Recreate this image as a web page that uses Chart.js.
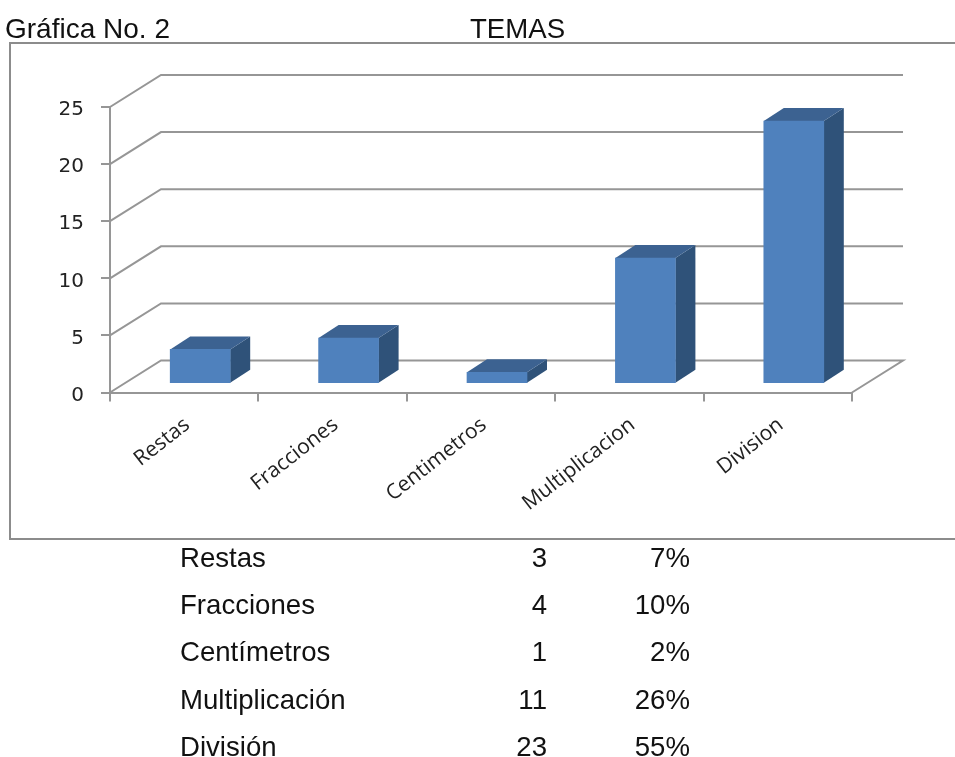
<!DOCTYPE html>
<html>
<head>
<meta charset="utf-8">
<script src="https://cdn.jsdelivr.net/npm/chart.js@4/dist/chart.umd.min.js"></script>
<style>
html, body { margin: 0; padding: 0; background: #fff; overflow: hidden; }
body { width: 955px; height: 757px; position: relative; font-family: "Liberation Sans", Arial, sans-serif; color: #111; }
#frame { position: absolute; left: 9px; top: 42px; width: 960px; height: 494px; border: 2px solid #8c8c8c; box-sizing: content-box; }
canvas { position: absolute; left: 0; top: 0; }
.txt { position: absolute; font-size: 27.6px; line-height: 30px; white-space: nowrap; }
</style>
</head>
<body>
<div id="frame"></div>
<canvas id="chart" width="955" height="757"></canvas>
<div class="txt" style="left:5px;top:14px;font-size:28px">Gráfica No. 2</div>
<div class="txt" style="left:470px;top:14px">TEMAS</div>
<div id="table"></div>
<script>
const categories = ['Restas', 'Fracciones', 'Centimetros', 'Multiplicacion', 'Division'];
const values = [3, 4, 1, 11, 23];
const yTicks = [0, 5, 10, 15, 20, 25];

const tableNames = ['Restas', 'Fracciones', 'Centímetros', 'Multiplicación', 'División'];
const tablePercents = ['7%', '10%', '2%', '26%', '55%'];
const tableTops = [543, 590, 637, 685, 732];

const COLORS = { front: '#4f81bd', top: '#3c6291', side: '#2f5279', line: '#969696', text: '#222222' };

// depth of the fake 3d box, and how far bars sit inside it
const WALL = { dx: 51, dy: 32 };
const BAR = { dx: 20, dy: 13, shiftX: 16, shiftY: 8.8 };

const box3d = {
    id: 'box3d',
    beforeDatasetsDraw(chart) {
        const { ctx, scales: { x, y } } = chart;
        ctx.save();
        ctx.strokeStyle = COLORS.line;
        ctx.lineWidth = 2;
        yTicks.forEach(v => {
            const py = y.getPixelForValue(v);
            ctx.beginPath();
            ctx.moveTo(x.left, py);
            ctx.lineTo(x.left + WALL.dx, py - WALL.dy);
            ctx.lineTo(x.right + WALL.dx, py - WALL.dy);
            if (v === 0) ctx.lineTo(x.right, py);
            ctx.stroke();
        });
        ctx.restore();

        // bars are moved back onto the floor, the side and top faces go first
        ctx.save();
        ctx.translate(BAR.shiftX, -BAR.shiftY);
        chart.getDatasetMeta(0).data.forEach(bar => {
            const p = bar.getProps(['x', 'y', 'base', 'width'], true);
            const l = p.x - p.width / 2, r = p.x + p.width / 2;
            ctx.fillStyle = COLORS.side;
            ctx.beginPath();
            ctx.moveTo(r, p.y);
            ctx.lineTo(r + BAR.dx, p.y - BAR.dy);
            ctx.lineTo(r + BAR.dx, p.base - BAR.dy);
            ctx.lineTo(r, p.base);
            ctx.closePath();
            ctx.fill();
            ctx.fillStyle = COLORS.top;
            ctx.beginPath();
            ctx.moveTo(l, p.y);
            ctx.lineTo(l + BAR.dx, p.y - BAR.dy);
            ctx.lineTo(r + BAR.dx, p.y - BAR.dy);
            ctx.lineTo(r, p.y);
            ctx.closePath();
            ctx.fill();
        });
        // left open for the bars themselves, closed in afterDatasetsDraw
    },
    afterDatasetsDraw(chart) {
        chart.ctx.restore();
    }
};

new Chart(document.getElementById('chart'), {
    type: 'bar',
    data: {
        labels: categories,
        datasets: [{ data: values, backgroundColor: COLORS.front, barThickness: 60 }]
    },
    options: {
        responsive: false,
        animation: false,
        layout: { padding: { left: 0, top: 107, right: 103, bottom: 0 } },
        plugins: { legend: { display: false }, tooltip: { enabled: false } },
        scales: {
            x: {
                afterFit: s => { s.height = 757 - 392.5; },
                border: { color: COLORS.line, width: 2 },
                grid: { drawOnChartArea: false, color: COLORS.line, lineWidth: 2, tickLength: 9 },
                ticks: {
                    color: COLORS.text,
                    font: { family: '"Open Sans"', size: 21 },
                    minRotation: 38,
                    maxRotation: 38,
                    labelOffset: 3,
                    padding: 11
                }
            },
            y: {
                min: 0,
                max: 25,
                afterFit: s => { s.width = 110; },
                afterBuildTicks: s => { s.ticks = yTicks.map(value => ({ value })); },
                border: { color: COLORS.line, width: 2 },
                grid: { drawOnChartArea: false, color: COLORS.line, lineWidth: 2, tickLength: 9 },
                ticks: {
                    color: COLORS.text,
                    font: { family: '"DejaVu Sans"', size: 20 },
                    labelOffset: 3,
                    padding: 17
                }
            }
        }
    },
    plugins: [box3d]
});

const table = document.getElementById('table');
tableNames.forEach((name, i) => {
    const cells = [
        ['left:180px', name],
        ['right:408px', String(values[i])],
        ['right:265px', tablePercents[i]]
    ];
    cells.forEach(([pos, text]) => {
        const el = document.createElement('div');
        el.className = 'txt';
        el.style.cssText = pos + ';top:' + tableTops[i] + 'px';
        el.textContent = text;
        table.appendChild(el);
    });
});
</script>
</body>
</html>
